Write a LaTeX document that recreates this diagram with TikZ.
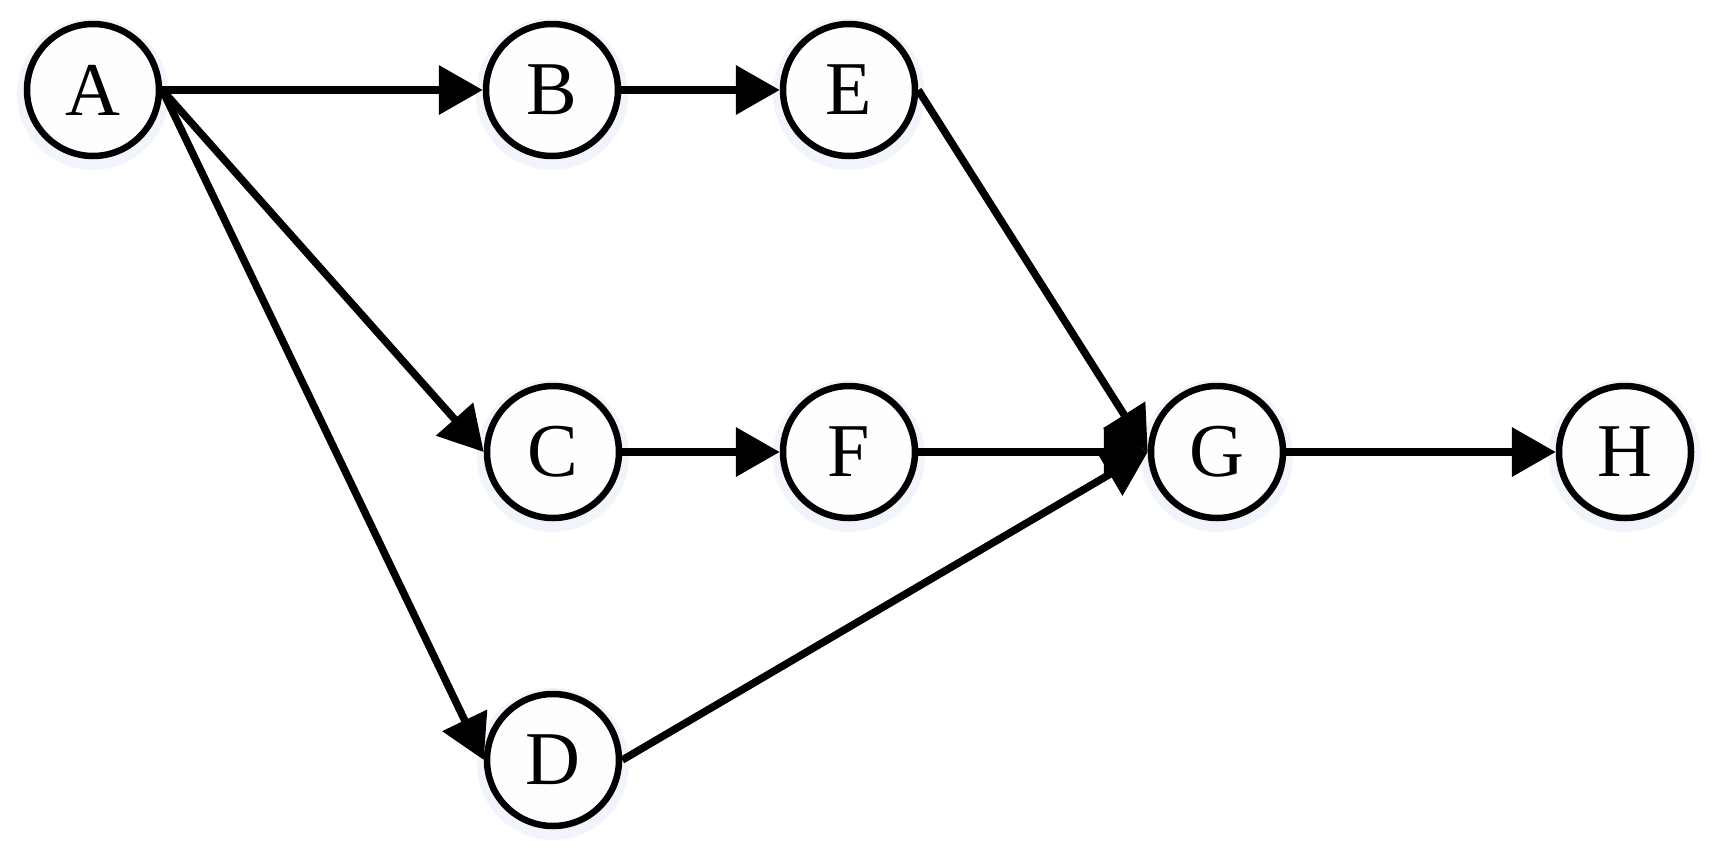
\documentclass[tikz,border=0pt]{standalone}
\usepackage{fontspec}
\setmainfont{Liberation Serif}
\usetikzlibrary{arrows.meta}
\definecolor{halo}{RGB}{241,245,251}
\definecolor{inner}{RGB}{253,254,255}
\begin{document}
\begin{tikzpicture}[x=0.5pt,y=-0.5pt,
  vnode/.style={circle, draw=black, line width=3.25pt, fill=inner, minimum size=66pt, inner sep=0pt,
    font=\fontsize{38}{42}\selectfont},
  edge/.style={line width=3.75pt, -{Triangle[length=22pt,width=24pt]}}]
\useasboundingbox (0,0) rectangle (1715,852);
\foreach \x/\y in {93/90,552/90,849/90,553/452,849/452,1217/452,1625/452,553/760}
  \fill[halo] (\x,\y+4) circle[radius=38pt];
\node[vnode] (A) at (93,90) {A};
\node[vnode] (B) at (552,90) {B};
\node[vnode] (E) at (849,90) {E};
\node[vnode] (C) at (553,452) {C};
\node[vnode] (F) at (849,452) {F};
\node[vnode] (G) at (1217,452) {G};
\node[vnode] (H) at (1625,452) {H};
\node[vnode] (D) at (553,760) {D};
\draw[edge] (A.east) -- (B.west);
\draw[edge] (A.east) -- (C.west);
\draw[edge] (A.east) -- (D.west);
\draw[edge] (B.east) -- (E.west);
\draw[edge] (C.east) -- (F.west);
\draw[edge] (E.east) -- (G.west);
\draw[edge] (F.east) -- (G.west);
\draw[edge] (D.east) -- (G.west);
\draw[edge] (G.east) -- (H.west);
\end{tikzpicture}
\end{document}
